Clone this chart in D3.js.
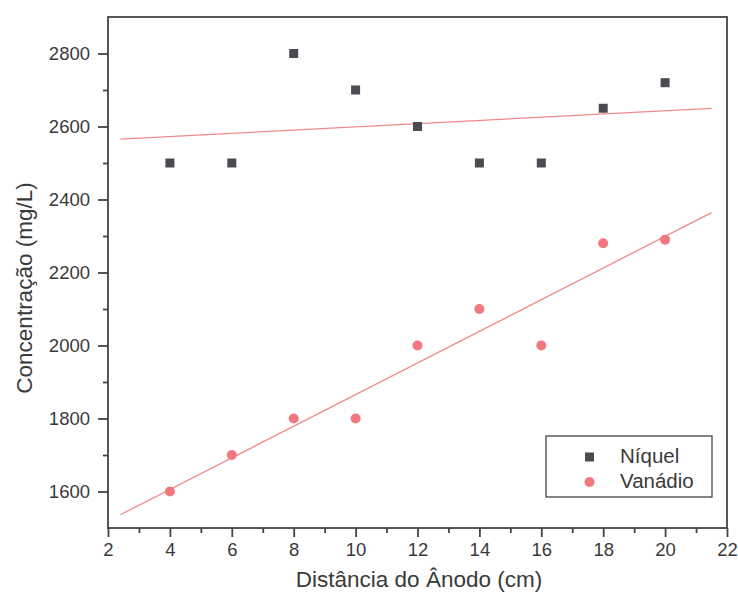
<!DOCTYPE html>
<html><head><meta charset="utf-8">
<script src="https://cdn.jsdelivr.net/npm/d3@7"></script>
<style>body{margin:0;background:#fff}svg{display:block}text{font-family:"Liberation Sans",Arial,sans-serif;fill:#3a3a3a}</style>
</head><body>
<script>
const distances = [4, 6, 8, 10, 12, 14, 16, 18, 20];
const niquel = [2500, 2500, 2800, 2700, 2600, 2500, 2500, 2650, 2720];
const vanadio = [1600, 1700, 1800, 1800, 2000, 2100, 2000, 2280, 2290];
const xTicks = [2, 4, 6, 8, 10, 12, 14, 16, 18, 20, 22];
const yTicks = [1600, 1800, 2000, 2200, 2400, 2600, 2800];
const fitRange = [2.4, 21.5];

const W = 738, H = 599;
const m = {l: 108, r: 11, t: 17, b: 71};
const svg = d3.select("body").append("svg").attr("width", W).attr("height", H);
const x = d3.scaleLinear().domain([2, 22]).range([m.l, W - m.r]);
const y = d3.scaleLinear().domain([1500, 2900]).range([H - m.b, m.t]);

function fit(xs, ys) {
  const mx = d3.mean(xs), my = d3.mean(ys);
  const s = d3.sum(xs, (v, i) => (v - mx) * (ys[i] - my)) / d3.sum(xs, v => (v - mx) ** 2);
  return v => my + s * (v - mx);
}
const fN = fit(distances, niquel), fV = fit(distances, vanadio);
const lineCol = "#f08a8a";
[fN, fV].forEach(f => {
  svg.append("line").attr("x1", x(fitRange[0])).attr("y1", y(f(fitRange[0])))
    .attr("x2", x(fitRange[1])).attr("y2", y(f(fitRange[1])))
    .attr("stroke", lineCol).attr("stroke-width", 1.3);
});

// markers
svg.selectAll("rect.n").data(distances).enter().append("rect").attr("class", "n")
  .attr("x", (d) => x(d) - 4.5).attr("y", (d, i) => y(niquel[i]) - 4.5)
  .attr("width", 9).attr("height", 9).attr("fill", "#4b4b52");
svg.selectAll("circle.v").data(distances).enter().append("circle").attr("class", "v")
  .attr("cx", d => x(d)).attr("cy", (d, i) => y(vanadio[i])).attr("r", 5)
  .attr("fill", "#f0787e");

// frame
svg.append("rect").attr("x", m.l).attr("y", m.t).attr("width", W - m.r - m.l).attr("height", H - m.b - m.t)
  .attr("fill", "none").attr("stroke", "#444").attr("stroke-width", 1.8);

const tickFont = "18.5px";
// x axis
const xa = svg.append("g").attr("transform", `translate(0,${H - m.b})`);
xa.call(d3.axisBottom(x).tickValues(d3.range(3, 22, 2)).tickSize(5).tickFormat(""));
xa.call(g => g.append("g").call(d3.axisBottom(x).tickValues(xTicks).tickSize(9).tickPadding(6)));
xa.selectAll(".domain").remove();
xa.selectAll("line").attr("stroke", "#444").attr("stroke-width", 1.8);
xa.selectAll("text").style("font-size", tickFont).attr("fill", "#3a3a3a").style("font-family", '"Liberation Sans",Arial,sans-serif');

// y axis
const ya = svg.append("g").attr("transform", `translate(${m.l},0)`);
ya.call(d3.axisLeft(y).tickValues(d3.range(1700, 2900, 200)).tickSize(5).tickFormat(""));
ya.call(g => g.append("g").call(d3.axisLeft(y).tickValues(yTicks).tickSize(10).tickPadding(8).tickFormat(d3.format("d"))));
ya.selectAll(".domain").remove();
ya.selectAll("line").attr("stroke", "#444").attr("stroke-width", 1.8);
ya.selectAll("text").style("font-size", tickFont).attr("fill", "#3a3a3a").style("font-family", '"Liberation Sans",Arial,sans-serif');

// axis titles
svg.append("text").attr("x", 419).attr("y", 587).attr("text-anchor", "middle")
  .style("font-size", "22.5px").text("Distância do Ânodo (cm)");
svg.append("text").attr("transform", "translate(32,288) rotate(-90)").attr("text-anchor", "middle")
  .style("font-size", "22.5px").text("Concentração (mg/L)");

// legend
const lg = svg.append("g");
lg.append("rect").attr("x", 546).attr("y", 436).attr("width", 166).attr("height", 61)
  .attr("fill", "#fff").attr("stroke", "#444").attr("stroke-width", 1.3);
lg.append("rect").attr("x", 585).attr("y", 452.5).attr("width", 9).attr("height", 9).attr("fill", "#4b4b52");
lg.append("circle").attr("cx", 589.5).attr("cy", 482).attr("r", 5).attr("fill", "#f0787e");
lg.append("text").attr("x", 620).attr("y", 463).style("font-size", "20.5px").text("Níquel");
lg.append("text").attr("x", 620).attr("y", 488).style("font-size", "20.5px").text("Vanádio");
</script>
</body></html>
